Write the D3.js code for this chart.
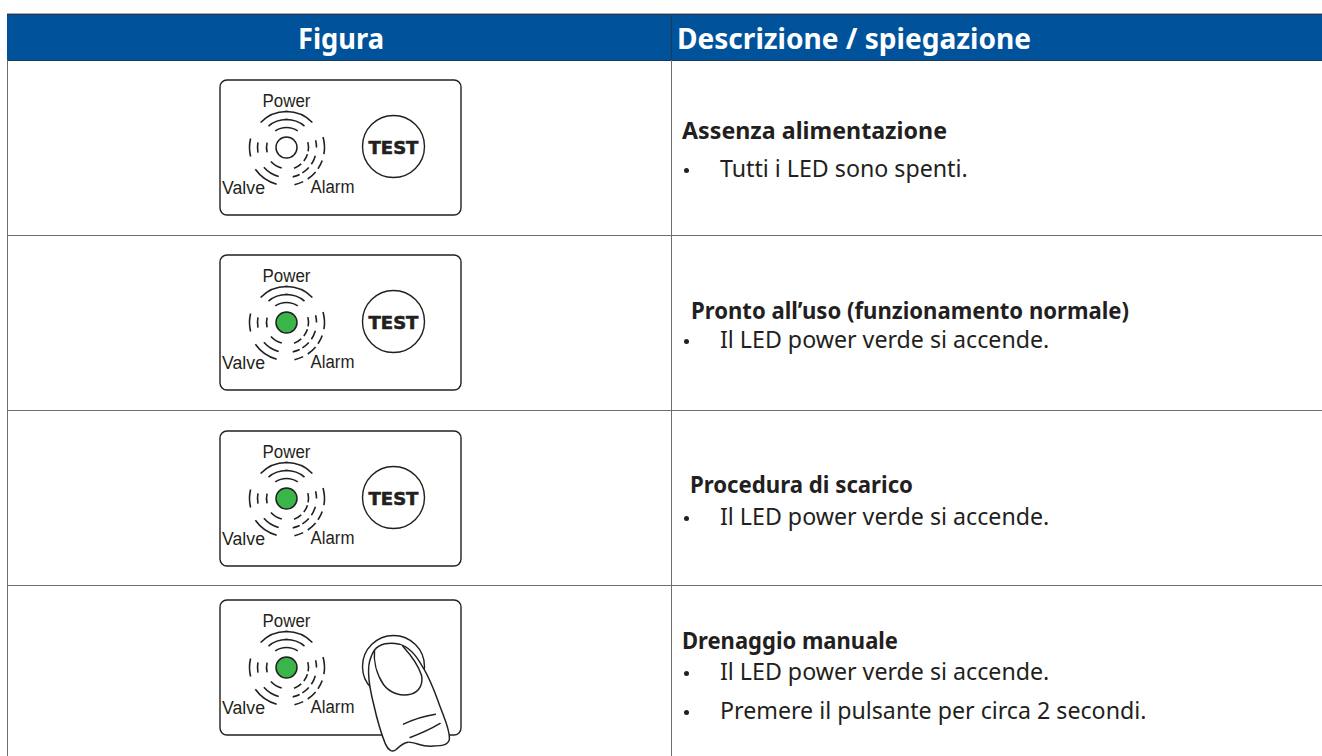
<!DOCTYPE html>
<html>
<head>
<meta charset="utf-8">
<script src="https://d3js.org/d3.v7.min.js"></script>
<style>
  html, body { margin: 0; padding: 0; background: #fff; overflow: hidden; }
  svg { display: block; }
  text { font-family: "Noto Sans", sans-serif; }
  .panel-label { font-family: "Liberation Sans", sans-serif; font-size: 18px; fill: #231f20; }
</style>
</head>
<body>
<div id="body"></div>
<script>
const headers = ["Figura", "Descrizione / spiegazione"]
const rowIds = ["off", "ready", "discharge", "manual"]
const titles = [
  "Assenza alimentazione",
  "Pronto all\u2019uso (funzionamento normale)",
  "Procedura di scarico",
  "Drenaggio manuale"
]
const bullets = [
  ["Tutti i LED sono spenti."],
  ["Il LED power verde si accende."],
  ["Il LED power verde si accende."],
  ["Il LED power verde si accende.", "Premere il pulsante per circa 2 secondi."]
]
const ledOn = [false, true, true, true]
const pressed = [false, false, false, true]

const width = 1322
const height = 756
const blue = "#00539b"
const ink = "#231f20"
const line = "#6d6e71"

// layout, per row
const panelTop = [20, 20, 21, 15]
const titleX = [682, 691, 690, 682]
const titleY = [139, 319, 493, 649]
const titleW = [265, 438, 223, 216]
const bulletY = [[177], [348], [525], [680, 719]]

let svg = d3.select("#body").append("svg")
    .attr("width", width)
    .attr("height", height)

let x = d3.scaleOrdinal().domain(headers).range([7, 671])
let y = d3.scaleBand().domain(rowIds).range([60, 760])

// header
svg.append("rect")
    .attr("x", 7).attr("y", 14)
    .attr("width", width - 7).attr("height", 46)
    .attr("fill", blue)
svg.append("line")
    .attr("x1", 7).attr("x2", width)
    .attr("y1", 13.5).attr("y2", 13.5)
    .attr("stroke", "#a9abae").attr("stroke-width", 1)
svg.append("line")
    .attr("x1", 7).attr("x2", width)
    .attr("y1", 14.5).attr("y2", 14.5)
    .attr("stroke", "#1f3a55").attr("stroke-width", 1)

svg.append("text")
    .attr("x", 298).attr("y", 49)
    .attr("fill", "#fff").attr("font-size", 29).attr("font-weight", 700)
    .attr("textLength", 86).attr("lengthAdjust", "spacingAndGlyphs")
    .text(headers[0])
svg.append("text")
    .attr("x", 677).attr("y", 49)
    .attr("fill", "#fff").attr("font-size", 29).attr("font-weight", 700)
    .attr("textLength", 354).attr("lengthAdjust", "spacingAndGlyphs")
    .text(headers[1])

// grid
svg.selectAll("line.row")
    .data(rowIds)
    .enter().append("line")
    .attr("class", "row")
    .attr("x1", 7).attr("x2", width)
    .attr("y1", d => y(d) + 0.5).attr("y2", d => y(d) + 0.5)
    .attr("stroke", (d, i) => i == 0 ? "#1f3a55" : line)
    .attr("stroke-width", 1)
svg.append("line")
    .attr("x1", 7.5).attr("x2", 7.5)
    .attr("y1", 60).attr("y2", height)
    .attr("stroke", line)
svg.append("line")
    .attr("x1", x(headers[1]) + 0.5).attr("x2", x(headers[1]) + 0.5)
    .attr("y1", 60).attr("y2", height)
    .attr("stroke", line)
svg.append("line")
    .attr("x1", x(headers[1]) + 0.5).attr("x2", x(headers[1]) + 0.5)
    .attr("y1", 14).attr("y2", 60)
    .attr("stroke", "#1f3a55")

// arcs around the LED, angles in degrees clockwise from the top
const arcs = [
  [20, -34, 34], [28, -40, 40], [36, -46, 46],
  [20, -104, -76], [29, -100, -80], [37, -104, -76],
  [21, 193, 228], [30, 195, 229], [38, 195, 235],
  [22, 76, 100], [30, 76, 90], [38, 74, 100],
  [22, 108, 128], [22, 138, 160],
  [30, 106, 124], [30, 132, 148], [30, 154, 168],
  [38, 110, 124], [38, 130, 146], [38, 154, 168]
]
let arc = d3.arc()
    .innerRadius(d => d[0])
    .outerRadius(d => d[0])
    .startAngle(d => d[1] * Math.PI / 180)
    .endAngle(d => d[2] * Math.PI / 180)

function drawPanel(g, i) {
  g.append("rect")
      .attr("x", 0.5).attr("y", 0.5)
      .attr("width", 241).attr("height", 135)
      .attr("rx", 7)
      .attr("fill", "#fff").attr("stroke", ink).attr("stroke-width", 1.4)

  let led = g.append("g").attr("transform", "translate(67,68)")
  led.selectAll("path")
      .data(arcs)
      .enter().append("path")
      .attr("d", arc)
      .attr("fill", "none")
      .attr("stroke", ink)
      .attr("stroke-width", 1.6)
      .attr("stroke-linecap", "round")
  led.append("circle")
      .attr("r", 10.5)
      .attr("fill", ledOn[i] ? "#39b54a" : "#fff")
      .attr("stroke", ink).attr("stroke-width", 1.5)

  g.append("text").attr("class", "panel-label")
      .attr("x", 43).attr("y", 27)
      .attr("textLength", 48).attr("lengthAdjust", "spacingAndGlyphs").text("Power")
  g.append("text").attr("class", "panel-label")
      .attr("x", 2.5).attr("y", 114)
      .attr("textLength", 43).attr("lengthAdjust", "spacingAndGlyphs").text("Valve")
  g.append("text").attr("class", "panel-label")
      .attr("x", 91).attr("y", 113.5)
      .attr("textLength", 44).attr("lengthAdjust", "spacingAndGlyphs").text("Alarm")

  g.append("circle")
      .attr("cx", 174).attr("cy", 67).attr("r", 31)
      .attr("fill", "#fff").attr("stroke", ink).attr("stroke-width", 1.4)

  if (!pressed[i]) {
    g.append("text")
        .attr("x", 174).attr("y", 74.5)
        .attr("text-anchor", "middle")
        .attr("font-size", 18).attr("font-weight", 700)
        .style("font-family", "'DejaVu Sans'")
        .attr("fill", ink).attr("stroke", ink).attr("stroke-width", 0.6)
        .text("TEST")
  } else {
    let f = g.append("g")
        .attr("transform", "scale(0.3333) translate(-60,-28)")
        .attr("stroke", ink).attr("stroke-width", 4.4)
        .attr("stroke-linejoin", "round").attr("stroke-linecap", "round")
    f.append("path")
        .attr("fill", "#fff")
        .attr("d", "M510,215 C502,250 512,300 522,340 C532,385 545,430 558,462 C566,480 578,488 590,478 C600,468 612,458 625,456 C645,455 668,470 695,468 C720,467 748,468 750,445 C750,415 735,385 722,350 C706,305 692,265 668,228 C650,195 628,170 600,162 C570,155 540,160 525,180 C516,192 513,205 510,215 Z")
    f.append("path")
        .attr("fill", "none")
        .attr("d", "M525,180 C522,210 530,250 552,283 C570,308 605,320 635,312 C660,305 672,280 666,255 C655,220 630,190 610,168")
    f.append("path")
        .attr("fill", "none")
        .attr("d", "M612,402 C640,388 670,378 708,372")
    f.append("path")
        .attr("fill", "none")
        .attr("d", "M632,442 C665,430 695,416 722,400")
  }
}

let rows = svg.selectAll("g.data-row")
    .data(rowIds)
    .enter().append("g")
    .attr("class", "data-row")

rows.each(function(d, i) {
  let g = d3.select(this)
  drawPanel(g.append("g").attr("transform", `translate(219.5,${y(d) + panelTop[i] - 0.5})`), i)

  g.append("text")
      .attr("x", titleX[i]).attr("y", titleY[i])
      .attr("font-size", 22.5).attr("font-weight", 700)
      .attr("textLength", titleW[i]).attr("lengthAdjust", "spacingAndGlyphs")
      .attr("fill", ink)
      .text(titles[i])

  bullets[i].forEach((b, j) => {
    g.append("circle")
        .attr("cx", 686.5).attr("cy", bulletY[i][j] - 6.5).attr("r", 2.5)
        .attr("fill", ink)
    g.append("text")
        .attr("x", 720).attr("y", bulletY[i][j])
        .attr("font-size", 23.2)
        .attr("fill", ink)
        .text(b)
  })
})
</script>
</body>
</html>
